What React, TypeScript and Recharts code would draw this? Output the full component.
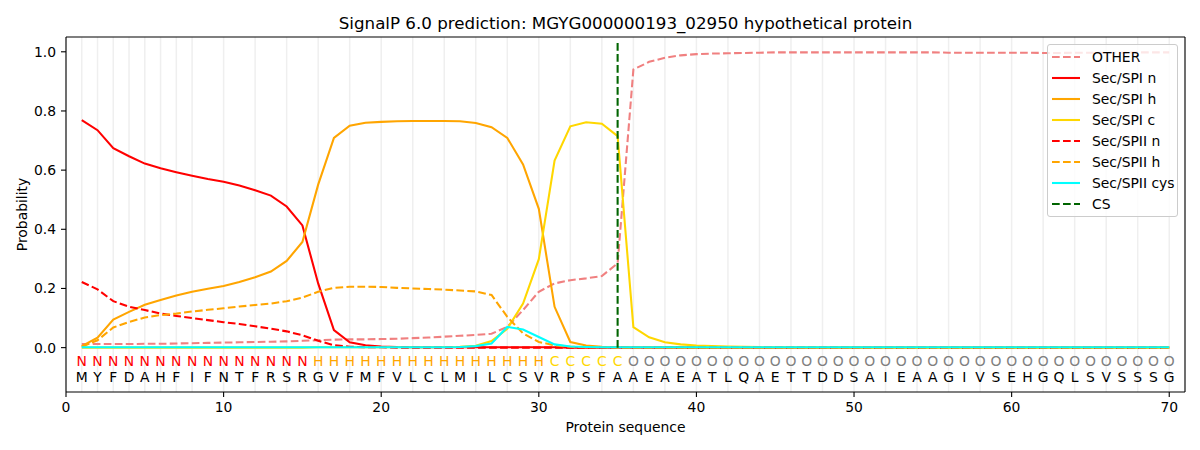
import { CartesianGrid, Label, Legend, Line, LineChart, ReferenceDot, ReferenceLine, XAxis, YAxis } from 'recharts';

// residues and per-residue region labels (N = n-region, H = h-region, C = c-region, O = other)
const residues = 'MYFDAHFIFNTFRSRGVFMFVLCLMILCSVRPSFAAEAEATLQAETTDDSAIEAAGIVSEHGQLSVSSSG'.split('');
const regions = 'NNNNNNNNNNNNNNNHHHHHHHHHHHHHHHCCCCCOOOOOOOOOOOOOOOOOOOOOOOOOOOOOOOOOOO'.split('');

const other = [
  0.012, 0.012, 0.012, 0.012, 0.013, 0.013, 0.014, 0.015, 0.016, 0.017,
  0.018, 0.019, 0.020, 0.021, 0.023, 0.025, 0.027, 0.028, 0.028, 0.029,
  0.030, 0.032, 0.034, 0.037, 0.040, 0.043, 0.047, 0.070, 0.127, 0.189,
  0.217, 0.228, 0.234, 0.242, 0.285, 0.940, 0.966, 0.980, 0.988, 0.992,
  0.994, 0.995, 0.996, 0.997, 0.998, 0.998, 0.998, 0.998, 0.998, 0.998,
  0.998, 0.998, 0.998, 0.998, 0.998, 0.997, 0.997, 0.997, 0.997, 0.997,
  0.997, 0.996, 0.996, 0.997, 0.997, 0.997, 0.997, 0.998, 0.998, 0.998,
];
const spiN = [
  0.769, 0.735, 0.674, 0.647, 0.622, 0.606, 0.593, 0.581, 0.570, 0.561,
  0.548, 0.532, 0.514, 0.477, 0.413, 0.217, 0.059, 0.018, 0.008, 0.004,
  0.002, 0.001, 0.001, 0.001, 0.001, 0.001, 0.001, 0.001, 0.001, 0.001,
  0.001, 0, 0, 0, 0, 0, 0, 0, 0, 0,
  0, 0, 0, 0, 0, 0, 0, 0, 0, 0,
  0, 0, 0, 0, 0, 0, 0, 0, 0, 0,
  0, 0, 0, 0, 0, 0, 0, 0, 0, 0,
];
const spiH = [
  0.005, 0.034, 0.095, 0.121, 0.145, 0.161, 0.176, 0.189, 0.199, 0.208,
  0.222, 0.238, 0.257, 0.293, 0.357, 0.551, 0.709, 0.750, 0.760, 0.763,
  0.765, 0.766, 0.766, 0.766, 0.765, 0.759, 0.745, 0.709, 0.619, 0.469,
  0.138, 0.019, 0.007, 0.003, 0.002, 0.001, 0.001, 0.001, 0, 0,
  0, 0, 0, 0, 0, 0, 0, 0, 0, 0,
  0, 0, 0, 0, 0, 0, 0, 0, 0, 0,
  0, 0, 0, 0, 0, 0, 0, 0, 0, 0,
];
const spiC = [
  0, 0, 0, 0, 0, 0, 0, 0, 0, 0,
  0, 0, 0, 0, 0, 0.001, 0.001, 0.001, 0.001, 0.001,
  0.001, 0.001, 0.001, 0.002, 0.003, 0.006, 0.022, 0.064, 0.149, 0.299,
  0.632, 0.748, 0.762, 0.757, 0.715, 0.069, 0.035, 0.018, 0.011, 0.007,
  0.005, 0.004, 0.003, 0.002, 0.002, 0.001, 0.001, 0.001, 0.001, 0.001,
  0, 0, 0, 0, 0, 0, 0, 0, 0, 0,
  0, 0, 0, 0, 0, 0, 0, 0, 0, 0,
];
const spiiN = [
  0.222, 0.197, 0.157, 0.138, 0.127, 0.115, 0.107, 0.100, 0.093, 0.086,
  0.080, 0.072, 0.064, 0.055, 0.042, 0.023, 0.008, 0.003, 0.001, 0.001,
  0, 0, 0, 0, 0, 0, 0, 0, 0, 0,
  0, 0, 0, 0, 0, 0, 0, 0, 0, 0,
  0, 0, 0, 0, 0, 0, 0, 0, 0, 0,
  0, 0, 0, 0, 0, 0, 0, 0, 0, 0,
  0, 0, 0, 0, 0, 0, 0, 0, 0, 0,
];
const spiiH = [
  0.003, 0.025, 0.068, 0.087, 0.102, 0.110, 0.115, 0.122, 0.128, 0.133,
  0.139, 0.144, 0.149, 0.157, 0.169, 0.189, 0.202, 0.206, 0.206, 0.205,
  0.202, 0.200, 0.198, 0.196, 0.193, 0.190, 0.178, 0.104, 0.048, 0.019,
  0.008, 0.003, 0.001, 0.001, 0, 0, 0, 0, 0, 0,
  0, 0, 0, 0, 0, 0, 0, 0, 0, 0,
  0, 0, 0, 0, 0, 0, 0, 0, 0, 0,
  0, 0, 0, 0, 0, 0, 0, 0, 0, 0,
];
const spiiCys = [
  0.001, 0.001, 0.001, 0.001, 0.001, 0.001, 0.001, 0.001, 0.001, 0.001,
  0.001, 0.001, 0.001, 0.001, 0.001, 0.001, 0.001, 0.001, 0.001, 0.001,
  0.001, 0.001, 0.001, 0.001, 0.002, 0.005, 0.014, 0.070, 0.061, 0.036,
  0.011, 0.004, 0.002, 0.001, 0.001, 0.001, 0.001, 0.001, 0.001, 0.001,
  0.001, 0.001, 0.001, 0.001, 0.001, 0.001, 0.001, 0.001, 0.001, 0.001,
  0.001, 0.001, 0.001, 0.001, 0.001, 0.001, 0.001, 0.001, 0.001, 0.001,
  0.001, 0.001, 0.001, 0.001, 0.001, 0.001, 0.001, 0.001, 0.001, 0.001,
];

const cleavageSite = 35;
const xTicks = [0, 10, 20, 30, 40, 50, 60, 70];
const yTicks = [0, 0.2, 0.4, 0.6, 0.8, 1.0];

const regionColors: Record<string, string> = { N: '#ff0000', H: '#ffa500', C: '#ffd700', O: '#808080' };

const DASH = '7.7 3.3';
const LW = 2.08;
const FONT = '"DejaVu Sans", sans-serif';

const series = [
  { key: 'other', name: 'OTHER', color: '#f08080', dashed: true, values: other },
  { key: 'spiN', name: 'Sec/SPI n', color: '#ff0000', dashed: false, values: spiN },
  { key: 'spiH', name: 'Sec/SPI h', color: '#ffa500', dashed: false, values: spiH },
  { key: 'spiC', name: 'Sec/SPI c', color: '#ffd700', dashed: false, values: spiC },
  { key: 'spiiN', name: 'Sec/SPII n', color: '#ff0000', dashed: true, values: spiiN },
  { key: 'spiiH', name: 'Sec/SPII h', color: '#ffa500', dashed: true, values: spiiH },
  { key: 'spiiCys', name: 'Sec/SPII cys', color: '#00ffff', dashed: false, values: spiiCys },
];

const legendItems = [
  ...series.map((s) => ({ name: s.name, color: s.color, dashed: s.dashed })),
  { name: 'CS', color: '#006400', dashed: true },
];

const data = residues.map((r, i) => {
  const row: Record<string, number | string> = { pos: i + 1, aa: r };
  series.forEach((s) => {
    row[s.key] = s.values[i];
  });
  return row;
});
const positions = residues.map((_, i) => i + 1);

const LegendBox = () => (
  <div
    style={{
      border: '1px solid #cccccc',
      borderRadius: 3,
      background: 'rgba(255,255,255,0.8)',
      padding: '1px 0 2px 0',
      fontFamily: FONT,
      fontSize: 13.9,
      color: '#000',
    }}
  >
    {legendItems.map((it) => (
      <div key={it.name} style={{ height: 21, display: 'flex', alignItems: 'center' }}>
        <svg width={44} height={6} style={{ flex: 'none' }}>
          <line
            x1={4}
            x2={32}
            y1={3}
            y2={3}
            stroke={it.color}
            strokeWidth={LW}
            strokeDasharray={it.dashed ? DASH : undefined}
          />
        </svg>
        <span style={{ whiteSpace: 'nowrap' }}>{it.name}</span>
      </div>
    ))}
  </div>
);

export default function App() {
  return (
    <div style={{ position: 'absolute', left: 0, top: 0, width: 1200, height: 450, fontFamily: FONT, background: '#fff' }}>
      <div
        style={{
          position: 'absolute',
          left: 66,
          width: 1119,
          top: 12,
          textAlign: 'center',
          fontSize: 16.7,
          lineHeight: '22px',
          color: '#000',
          zIndex: 2,
        }}
      >
        SignalP 6.0 prediction: MGYG000000193_02950 hypothetical protein
      </div>
      <LineChart width={1200} height={450} data={data} margin={{ top: 37, right: 15, bottom: 0, left: 10 }}>
        <XAxis xAxisId="grid" dataKey="pos" type="number" domain={[0, 71]} ticks={positions} hide allowDataOverflow />
        <CartesianGrid xAxisId="grid" horizontal={false} stroke="#efefef" strokeWidth={1.5} />
        <XAxis
          dataKey="pos"
          type="number"
          domain={[0, 71]}
          ticks={xTicks}
          allowDataOverflow
          height={58}
          tickSize={5}
          tickMargin={5}
          axisLine={{ stroke: '#000', strokeWidth: 1.1 }}
          tickLine={{ stroke: '#000', strokeWidth: 1.1 }}
          tick={{ fill: '#000', fontSize: 13.9, fontFamily: FONT }}
        >
          <Label value="Protein sequence" position="insideBottom" offset={18} fill="#000" fontSize={13.9} fontFamily={FONT} />
        </XAxis>
        <YAxis
          type="number"
          domain={[-0.15, 1.05]}
          ticks={yTicks}
          allowDataOverflow
          width={56}
          tickSize={5}
          tickMargin={5}
          tickFormatter={(v: number) => v.toFixed(1)}
          axisLine={{ stroke: '#000', strokeWidth: 1.1 }}
          tickLine={{ stroke: '#000', strokeWidth: 1.1 }}
          tick={{ fill: '#000', fontSize: 13.9, fontFamily: FONT }}
        >
          <Label
            content={({ viewBox }: any) => {
              const cx = viewBox.x + 12;
              const cy = viewBox.y + viewBox.height / 2;
              return (
                <text
                  x={cx}
                  y={cy}
                  transform={`rotate(-90, ${cx}, ${cy})`}
                  textAnchor="middle"
                  dominantBaseline="central"
                  fill="#000"
                  fontSize={13.9}
                  fontFamily={FONT}
                >
                  Probability
                </text>
              );
            }}
          />
        </YAxis>
        <ReferenceLine y={1.05} stroke="#000" strokeWidth={1.1} />
        <ReferenceLine x={71} stroke="#000" strokeWidth={1.1} />
        {series.map((s) => (
          <Line
            key={s.key}
            type="linear"
            dataKey={s.key}
            name={s.name}
            stroke={s.color}
            strokeWidth={LW}
            strokeDasharray={s.dashed ? DASH : undefined}
            dot={false}
            activeDot={false}
            isAnimationActive={false}
          />
        ))}
        <ReferenceLine
          segment={[
            { x: cleavageSite, y: 0 },
            { x: cleavageSite, y: 1.036 },
          ]}
          stroke="#006400"
          strokeWidth={LW}
          strokeDasharray={DASH}
        />
        {regions.map((r, i) => (
          <ReferenceDot
            key={'r' + i}
            x={positions[i]}
            y={-0.046}
            r={0}
            fill="none"
            stroke="none"
            label={{ value: r, position: 'center', fill: regionColors[r], fontSize: 13.9, fontFamily: FONT }}
          />
        ))}
        {residues.map((r, i) => (
          <ReferenceDot
            key={'a' + i}
            x={positions[i]}
            y={-0.1}
            r={0}
            fill="none"
            stroke="none"
            label={{ value: r, position: 'center', fill: '#000', fontSize: 13.9, fontFamily: FONT }}
          />
        ))}
        <Legend
          layout="vertical"
          align="center"
          verticalAlign="middle"
          wrapperStyle={{ left: 1047, top: 44, width: 131, height: 'auto' }}
          content={() => <LegendBox />}
        />
      </LineChart>
    </div>
  );
}
